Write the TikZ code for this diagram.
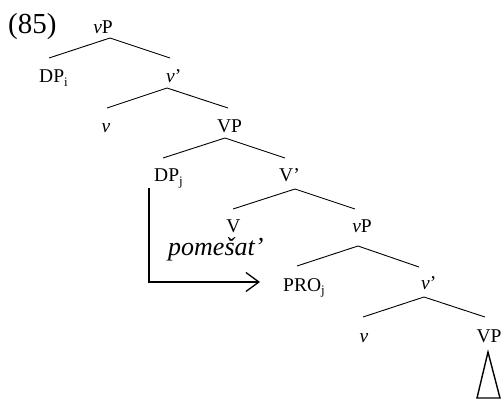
\documentclass[tikz,border=0pt]{standalone}
\usepackage{fontspec}
\setmainfont{Liberation Serif}
\usetikzlibrary{arrows.meta}
\tikzset{
  lab/.style={inner sep=0pt, anchor=base, font=\fontsize{19.5}{22}\selectfont},
  labw/.style={lab, anchor=base west},
  branch/.style={line width=0.9pt},
  mv/.style={line width=1.3pt, -{Straight Barb[length=13pt,width=19pt,line width=1.3pt]}},
  tri/.style={line width=1.4pt, line join=miter}
}
\newcommand{\sbs}[1]{\textsubscript{\fontsize{13}{13}\selectfont #1}}
\begin{document}
\begin{tikzpicture}[x=1pt,y=-1pt]
\useasboundingbox (0,0) rectangle (504,401);
% example number
\node[inner sep=0pt, anchor=base west, font=\fontsize{29}{32}\selectfont] (ex) at (8,34) {(85)};
% nodes
\node[lab]  (n1)  at (103,34)  {\textit{v}P};
\node[labw] (n2)  at (39,83)   {DP\sbs{i}};
\node[labw] (n3)  at (166,83)  {\textit{v}’};
\node[lab]  (n4)  at (106,133) {\textit{v}};
\node[lab]  (n5)  at (229.5,133) {VP};
\node[labw] (n6)  at (154,182) {DP\sbs{j}};
\node[labw] (n7)  at (279,182) {V’};
\node[lab, text depth=0pt]  (n8)  at (233.5,233) {V};
\node[lab]  (n9)  at (362,233) {\textit{v}P};
\node[labw] (n10) at (283,291) {PRO\sbs{j}};
\node[labw] (n11) at (421,290) {\textit{v}’};
\node[lab]  (n12) at (364,342) {\textit{v}};
\node[lab]  (n13) at (489,342) {VP};
\node[inner sep=0pt, anchor=base west, text height=17pt, font=\fontsize{26}{30}\selectfont\itshape] (gl) at (168,255) {pomešat’};
% branch points
\coordinate (a1) at (110,38);  \coordinate (l1) at (49,58);   \coordinate (r1) at (170,58);
\coordinate (a2) at (167,88);  \coordinate (l2) at (107,108); \coordinate (r2) at (228,108);
\coordinate (a3) at (225,138); \coordinate (l3) at (163,158); \coordinate (r3) at (285,158);
\coordinate (a4) at (295,189); \coordinate (l4) at (233,209); \coordinate (r4) at (355,209);
\coordinate (a5) at (358,246); \coordinate (l5) at (297,266); \coordinate (r5) at (419,267);
\coordinate (a6) at (424,297); \coordinate (l6) at (363,317); \coordinate (r6) at (485,317);
\draw[branch] (l1) -- (a1) -- (r1);
\draw[branch] (l2) -- (a2) -- (r2);
\draw[branch] (l3) -- (a3) -- (r3);
\draw[branch] (l4) -- (a4) -- (r4);
\draw[branch] (l5) -- (a5) -- (r5);
\draw[branch] (l6) -- (a6) -- (r6);
% triangle
\coordinate (t1) at (488,352); \coordinate (t2) at (477,398); \coordinate (t3) at (500,398);
\draw[tri] (t1) -- (t2) -- (t3) -- cycle;
% movement arrow
\coordinate (m0) at (149,188);
\coordinate (m1) at (260,282);
\draw[mv] (m0) |- (m1);
\end{tikzpicture}
\end{document}
